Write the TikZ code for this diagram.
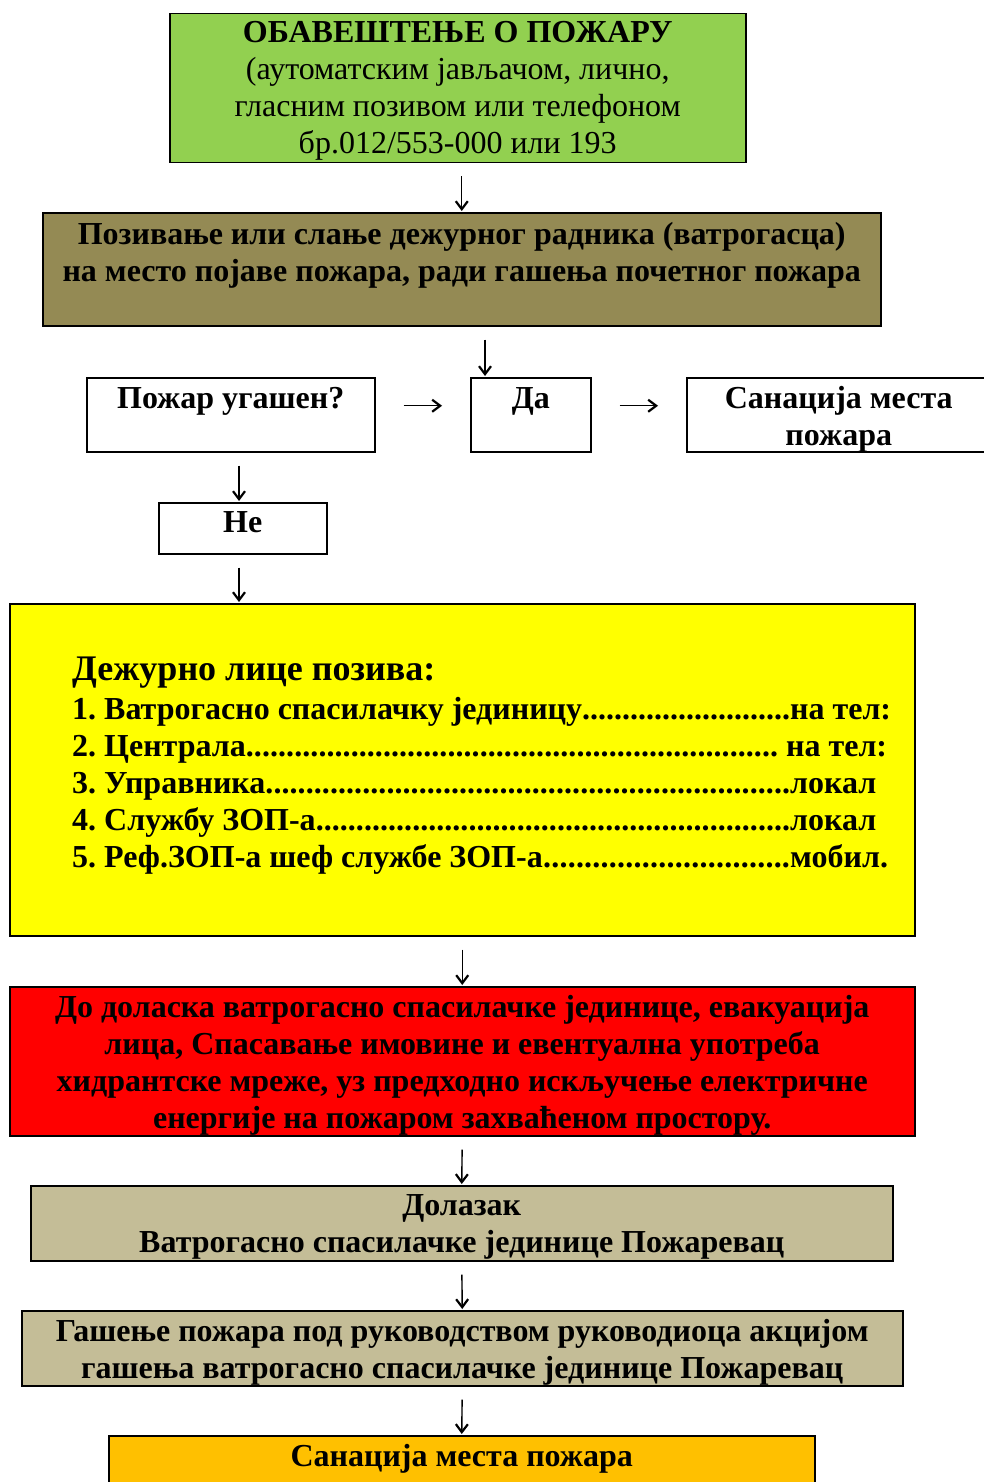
\documentclass[tikz,border=0pt]{standalone}
\usepackage{fontspec}
\setmainfont{Liberation Serif}
\usetikzlibrary{arrows.meta}

\definecolor{zelena}{HTML}{92D050}
\definecolor{maslina}{HTML}{948A54}
\definecolor{zuta}{HTML}{FFFF00}
\definecolor{crvena}{HTML}{FF0000}
\definecolor{bez}{HTML}{C4BD97}
\definecolor{narandza}{HTML}{FFC000}

% red s tackicama do zadate sirine
\newcommand{\tackice}[2]{\makebox[#1][l]{#2\xleaders\hbox{.}\hfill}}

\tikzset{
  box/.style={draw, line width=1.5pt, anchor=north west, inner sep=0pt},
  txt/.style={anchor=north, inner sep=0pt, align=center, font=\bfseries\fontsize{32}{37}\selectfont},
  arr/.style={-{Straight Barb[length=8pt,width=12pt,line width=2.2pt]}, line width=1.4pt, shorten <=13pt, shorten >=1pt},
}

\begin{document}
\frenchspacing
\begin{tikzpicture}[x=1pt, y=-1pt]
    \useasboundingbox (0,0) rectangle (984,1482);
    \clip (0,0) rectangle (984,1482);

    % Obavestenje
    \node[box, fill=zelena, minimum width=576pt, minimum height=149pt] (obav) at (169,13) {};
    \node[txt] (obavt) at ([yshift=-8pt]obav.north) {ОБАВЕШТЕЊЕ О ПОЖАРУ\\
        \mdseries (аутоматским јављачом, лично,\\
        \mdseries гласним позивом или телефоном\\
        \mdseries бр.012/553-000 или 193};

    % Pozivanje dezurnog
    \node[box, fill=maslina, minimum width=838pt, minimum height=113pt] (poziv) at (42,212) {};
    \node[txt] (pozivt) at ([yshift=-10pt]poziv.north) {Позивање или слање дежурног радника (ватрогасца)\\
        на место појаве пожара, ради гашења почетног пожара};

    % Pozar ugasen?
    \node[box, minimum width=288pt, minimum height=74pt] (pozar) at (86,377) {};
    \node[txt] (pozart) at ([yshift=-10pt]pozar.north) {Пожар угашен?};
    \node[box, minimum width=120pt, minimum height=74pt] (da) at (470,377) {};
    \node[txt] (dat) at ([yshift=-10pt]da.north) {Да};
    \node[box, minimum width=304pt, minimum height=74pt] (sanac) at (686,377) {};
    \node[txt] (sanact) at ([yshift=-9pt]sanac.north) {Санација места\\пожара};
    \node[box, minimum width=168pt, minimum height=51pt] (ne) at (158,502) {};
    \node[txt] (net) at ([yshift=-9pt]ne.north) {Не};

    % Dezurno lice
    \node[box, fill=zuta, minimum width=905pt, minimum height=332pt] (dezur) at (9,603) {};
    \node[anchor=north west, inner sep=0pt, align=left, font=\bfseries\fontsize{32}{37}\selectfont] (dezurt) at (72,657)
        {{\fontsize{36}{40}\selectfont Дежурно лице позива:}\\[2pt]
        \tackice{718pt}{1. Ватрогасно спасилачку јединицу}на тел:\\
        \tackice{706pt}{2. Централа} на тел:\\
        \tackice{718pt}{3. Управника}локал\\
        \tackice{718pt}{4. Службу ЗОП-а}локал\\
        \tackice{718pt}{5. Реф.ЗОП-а шеф службе ЗОП-а}мобил.};

    % Evakuacija
    \node[box, fill=crvena, minimum width=905pt, minimum height=149pt] (evak) at (9,986) {};
    \node[txt] (evakt) at ([yshift=-9pt]evak.north) {До доласка ватрогасно спасилачке јединице, евакуација\\
        лица, Спасавање имовине и евентуална употреба\\
        хидрантске мреже, уз предходно искључење електричне\\
        енергије на пожаром захваћеном простору.};

    % Dolazak i gasenje
    \node[box, fill=bez, minimum width=862pt, minimum height=75pt] (dolaz) at (30,1185) {};
    \node[txt] (dolazt) at ([yshift=-9pt]dolaz.north) {Долазак\\Ватрогасно спасилачке јединице Пожаревац};
    \node[box, fill=bez, minimum width=881pt, minimum height=75pt] (gasen) at (21,1310) {};
    \node[txt] (gasent) at ([yshift=-9pt]gasen.north) {Гашење пожара под руководством руководиоца акцијом\\
        гашења ватрогасно спасилачке јединице Пожаревац};
    \node[box, fill=narandza, minimum width=706pt, minimum height=60pt] (kraj) at (108,1435) {};
    \node[txt] (krajt) at ([yshift=-9pt]kraj.north) {Санација места пожара};

    % Strelice
    \coordinate (dax) at (485,0);
    \coordinate (nex) at (239,0);
    \draw[arr] (obav.south -| poziv.north) -- (poziv.north);
    \draw[arr] (poziv.south -| dax) -- (da.north -| dax);
    \draw[arr, shorten <=28pt, shorten >=28pt] ([yshift=9pt]pozar.east) -- ([yshift=9pt]da.west);
    \draw[arr, shorten <=28pt, shorten >=28pt] ([yshift=9pt]da.east) -- ([yshift=9pt]sanac.west);
    \draw[arr] (pozar.south -| nex) -- (ne.north -| nex);
    \draw[arr] (ne.south -| nex) -- (dezur.north -| nex);
    \draw[arr] (dezur.south) -- (evak.north);
    \draw[arr] (evak.south) -- (dolaz.north);
    \draw[arr] (dolaz.south) -- (gasen.north);
    \draw[arr] (gasen.south) -- (kraj.north);
\end{tikzpicture}
\end{document}
